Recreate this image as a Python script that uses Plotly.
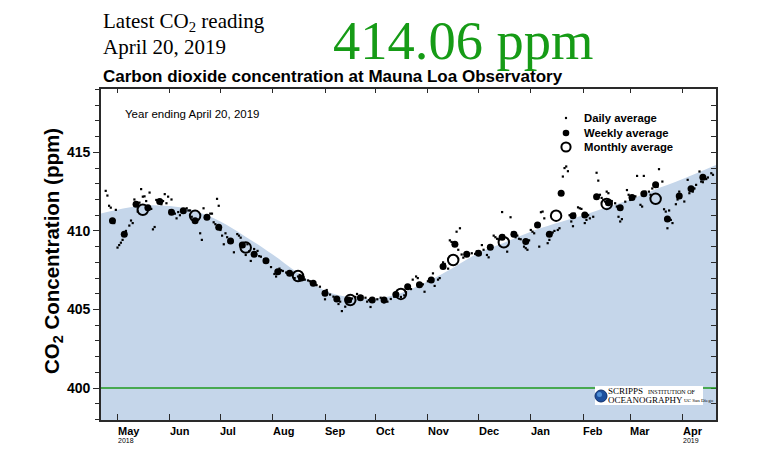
import plotly.graph_objects as go
import pandas as pd

# ---------------- data ----------------
BASE_DATE = "2018-05-01"           # daily offsets are days from this date
LATEST_PPM = "414.06 ppm"
LATEST_DATE = "April 20, 2019"
BASELINE_PPM = 400

trend_dates = ["2018-04-21", "2018-05-01", "2018-05-15", "2018-06-01", "2018-06-15",
               "2018-07-01", "2018-07-15", "2018-08-01", "2018-08-15", "2018-09-01",
               "2018-09-15", "2018-10-01", "2018-10-15", "2018-11-01", "2018-11-15",
               "2018-12-01", "2018-12-15", "2019-01-01", "2019-01-15", "2019-02-01",
               "2019-02-15", "2019-03-01", "2019-03-15", "2019-04-01", "2019-04-21"]
trend_ppm = [411.1, 411.35, 411.6, 411.58, 411.3, 410.6, 409.7, 408.5, 407.4, 406.2,
             405.8, 405.7, 406.0, 406.8, 407.6, 408.6, 409.2, 409.95, 410.45, 411.0,
             411.5, 412.0, 412.6, 413.3, 414.2]

weekly_start = "2018-04-28"
weekly_ppm = [410.64, 409.79, 411.70, 411.48, 411.87, 411.19, 411.29, 410.64, 410.87, 410.24,
              409.36, 409.11, 408.52, 408.11, 407.40, 407.30, 407.00, 406.67, 406.03, 405.67,
              405.60, 405.75, 405.60, 405.60, 405.95, 406.45, 406.58, 406.88, 407.73, 409.15,
              408.52, 408.58, 408.96, 409.60, 409.79, 409.32, 410.38, 409.79, 412.40, 410.96,
              411.02, 412.18, 411.80, 411.48, 412.12, 412.36, 412.93, 410.76, 412.23, 412.68,
              413.42]

monthly_dates = ["2018-05-16", "2018-06-16", "2018-07-16", "2018-08-16", "2018-09-16",
                 "2018-10-16", "2018-11-16", "2018-12-16", "2019-01-16", "2019-02-15",
                 "2019-03-16"]
monthly_ppm = [411.34, 410.96, 408.94, 407.13, 405.60, 405.99, 408.15, 409.28, 410.97,
               411.72, 412.04]

daily_day = [-7, -6, -5, -4, -3, -2, -1, 0, 1, 2, 3, 4, 5, 7, 8, 9, 10, 11, 12, 13, 14, 15,
             16, 17, 18, 19, 20, 21, 22, 23, 24, 25, 26, 27, 28, 29, 30, 31, 32, 33, 34, 35,
             36, 37, 38, 39, 40, 41, 42, 43, 44, 45, 46, 47, 49, 50, 51, 52, 53, 54, 55, 56,
             57, 58, 59, 60, 61, 62, 63, 64, 65, 66, 67, 68, 69, 71, 72, 73, 74, 75, 76, 77,
             78, 79, 81, 82, 83, 84, 85, 87, 88, 89, 91, 93, 94, 96, 97, 98, 100, 101, 103,
             105, 107, 108, 110, 111, 113, 114, 116, 117, 118, 120, 122, 123, 124, 126, 128,
             129, 131, 132, 133, 135, 136, 138, 139, 141, 142, 143, 145, 147, 148, 149, 150,
             152, 154, 156, 157, 158, 160, 162, 164, 166, 168, 170, 171, 173, 174, 175, 177,
             178, 180, 181, 182, 184, 185, 187, 188, 190, 191, 193, 194, 196, 197, 198, 199,
             201, 202, 203, 204, 205, 206, 208, 210, 212, 213, 215, 216, 217, 219, 220, 222,
             223, 224, 225, 226, 228, 229, 231, 233, 234, 236, 237, 238, 239, 241, 242, 243,
             244, 245, 246, 247, 248, 250, 251, 252, 253, 255, 256, 258, 259, 261, 262, 264,
             265, 266, 267, 268, 269, 270, 271, 273, 274, 275, 277, 278, 279, 280, 282, 284,
             285, 286, 287, 288, 289, 290, 291, 293, 295, 296, 297, 298, 299, 301, 302, 303,
             304, 306, 307, 308, 310, 311, 312, 313, 315, 316, 317, 318, 320, 321, 323, 324,
             325, 326, 327, 328, 329, 331, 332, 333, 334, 336, 338, 339, 341, 342, 343, 345,
             346, 347, 349, 350, 352, 353]
daily_ppm = [412.55, 412.25, 411.6, 411.48, 410.7, 410.5, 411.34, 408.94, 409.1, 409.25, 409.43,
             409.7, 410.0, 410.34, 410.66, 410.5, 412.0, 411.6, 411.23, 411.8, 412.66, 412.18,
             412.2, 411.9, 411.5, 412.44, 411.4, 410.1, 410.25, 411.97, 411.9, 411.8, 411.7,
             411.9, 412.34, 411.76, 412.18, 411.3, 412.0, 411.2, 411.1, 410.8, 411.2, 411.0,
             411.3, 411.35, 411.2, 411.44, 411.3, 411.3, 410.9, 410.7, 410.55, 410.6, 409.85,
             409.43, 411.44, 410.9, 410.8, 410.95, 411.1, 411.1, 410.55, 410.43, 412.04, 411.6,
             410.06, 409.7, 409.15, 409.85, 409.6, 409.32, 409.4, 409.3, 408.64, 409.8, 409.7,
             409.57, 409.1, 409.0, 408.47, 409.15, 408.7, 408.09, 408.85, 408.6, 408.73, 408.4,
             408.36, 408.2, 408.0, 408.1, 407.7, 407.26, 407.1, 407.6, 407.5, 407.45, 407.35,
             407.3, 407.25, 407.0, 407.1, 407.2, 407.05, 406.9, 406.85, 406.8, 406.7, 406.6,
             406.55, 406.45, 406.1, 405.65, 406.24, 405.95, 405.82, 405.7, 405.35, 405.5, 404.9,
             405.18, 405.6, 405.5, 405.7, 405.8, 405.99, 405.7, 405.85, 405.75, 405.5, 405.6,
             405.16, 405.6, 405.65, 405.75, 405.6, 405.46, 405.5, 405.67, 405.82, 405.9, 405.8,
             405.9, 406.1, 406.5, 406.3, 406.9, 407.1, 407.0, 406.5, 406.6, 406.13, 406.8, 406.9,
             407.3, 406.5, 406.9, 407.0, 408.0, 407.9, 407.6, 409.4, 409.3, 409.25, 409.95,
             408.8, 410.17, 408.5, 408.3, 408.6, 408.5, 408.58, 408.54, 408.7, 408.5, 409.1,
             408.8, 408.47, 408.32, 409.0, 409.7, 409.6, 409.5, 409.47, 411.2, 409.7, 408.68,
             410.87, 409.9, 409.6, 409.7, 409.5, 409.47, 409.0, 408.9, 408.8, 409.4, 410.06,
             409.95, 409.85, 410.4, 409.0, 411.19, 411.23, 410.8, 409.22, 409.43, 409.9, 410.0,
             410.06, 410.17, 413.46, 414.0, 414.1, 413.8, 411.0, 410.6, 410.3, 411.1, 411.5,
             411.44, 411.4, 410.5, 410.7, 411.0, 410.8, 410.9, 413.7, 413.2, 412.3, 412.1,
             411.97, 411.87, 412.5, 412.4, 411.9, 411.76, 411.55, 410.9, 410.6, 410.75, 411.86,
             412.6, 412.3, 411.97, 412.1, 412.2, 413.5, 411.66, 411.55, 413.5, 412.5, 412.5,
             412.3, 412.7, 412.9, 412.8, 413.93, 413.14, 411.38, 411.23, 410.17, 411.3, 410.7,
             410.5, 411.7, 412.0, 412.5, 412.3, 411.87, 413.25, 412.4, 412.5, 412.7, 412.93,
             413.78, 413.14, 413.1, 413.3, 413.4, 413.67, 413.57]

month_ticks = ["2018-05-01", "2018-06-01", "2018-07-01", "2018-08-01", "2018-09-01",
               "2018-10-01", "2018-11-01", "2018-12-01", "2019-01-01", "2019-02-01",
               "2019-03-01", "2019-04-01"]
month_labels = ["May", "Jun", "Jul", "Aug", "Sep", "Oct", "Nov", "Dec", "Jan", "Feb", "Mar", "Apr"]
year_labels = {"2018-05-01": "2018", "2019-04-01": "2019"}

x_range = ["2018-04-21 05:00", "2019-04-20 19:00"]
y_range = [397.97, 419.03]

# ---------------- derived ----------------
daily_dates = [pd.Timestamp(BASE_DATE) + pd.Timedelta(days=d) for d in daily_day]
weekly_dates = list(pd.date_range(weekly_start, periods=len(weekly_ppm), freq="7D"))

# plot-area geometry (pixels)
L, R, T, B = 101, 716, 89, 420
W, H = 768, 461


def px(x, y):
    return (x - L) / (R - L), (B - y) / (B - T)


SANS = "Liberation Sans"
SERIF = "Liberation Serif"
FRAME = "#2a2a2a"

fig = go.Figure()

fig.add_trace(go.Scatter(
    x=trend_dates, y=trend_ppm, mode="lines",
    line=dict(width=0, shape="spline", smoothing=1.0),
    fill="tozeroy", fillcolor="#c5d6ea", hoverinfo="skip", showlegend=False))

fig.add_trace(go.Scatter(
    x=daily_dates, y=daily_ppm, mode="markers",
    marker=dict(symbol="square", size=2.2, color="black"), showlegend=False))

fig.add_trace(go.Scatter(
    x=weekly_dates, y=weekly_ppm, mode="markers",
    marker=dict(symbol="circle", size=7, color="black"), showlegend=False))

fig.add_trace(go.Scatter(
    x=monthly_dates, y=monthly_ppm, mode="markers",
    marker=dict(symbol="circle-open", size=10.5, color="black", line=dict(width=2)),
    showlegend=False))

# invisible trace to activate the mirrored tick axes
fig.add_trace(go.Scatter(x=trend_dates, y=trend_ppm, mode="none", xaxis="x2", yaxis="y2",
                         hoverinfo="skip", showlegend=False))

fig.update_layout(
    width=W, height=H,
    margin=dict(l=L, r=W - R, t=T, b=H - B),
    paper_bgcolor="white", plot_bgcolor="white",
    xaxis=dict(type="date", range=x_range, showgrid=False, zeroline=False,
               showline=True, linecolor=FRAME, linewidth=1.6, mirror=True,
               tickmode="array", tickvals=month_ticks, ticks="inside", ticklen=6,
               tickcolor=FRAME, tickwidth=1.2, showticklabels=False),
    xaxis2=dict(type="date", range=x_range, overlaying="x", side="top", anchor="y2",
                showgrid=False, zeroline=False, showline=False,
                tickmode="array", tickvals=month_ticks, ticks="inside", ticklen=4,
                tickcolor=FRAME, tickwidth=1.2, showticklabels=False),
    yaxis=dict(range=y_range, showgrid=False, zeroline=False,
               showline=True, linecolor=FRAME, linewidth=1.6, mirror=True,
               tickmode="linear", tick0=400, dtick=5, ticks="outside", ticklen=6,
               tickcolor=FRAME, tickwidth=1.2, ticklabelstandoff=0,
               tickfont=dict(family=SANS, size=14, color="black", weight="bold"),
               minor=dict(dtick=1, ticks="outside", ticklen=4, tickcolor=FRAME, tickwidth=1,
                          showgrid=False)),
    yaxis2=dict(range=y_range, overlaying="y", side="right", anchor="x2",
                showgrid=False, zeroline=False, showline=False,
                tickmode="linear", tick0=400, dtick=1, ticks="inside", ticklen=5,
                tickcolor=FRAME, tickwidth=1, showticklabels=False),
)

shapes = []
# baseline at 400 ppm
shapes.append(dict(type="line", xref="paper", x0=0, x1=1, yref="y",
                   y0=BASELINE_PPM, y1=BASELINE_PPM,
                   line=dict(color="#1e9a1e", width=1.5)))

annotations = []

# month labels on the bottom axis
for d, lab in zip(month_ticks, month_labels):
    annotations.append(dict(x=d, xref="x", y=0, yref="paper", yanchor="top", xanchor="left",
                            yshift=-3, xshift=-2, text=lab, showarrow=False,
                            font=dict(family=SANS, size=11, color="black", weight="bold")))
    if d in year_labels:
        annotations.append(dict(x=d, xref="x", y=0, yref="paper", yanchor="top",
                                xanchor="left", yshift=-15, xshift=-2, text=year_labels[d],
                                showarrow=False,
                                font=dict(family=SANS, size=7, color="black")))

# y-axis title
x, y = px(53, 251)
annotations.append(dict(x=x, y=y, xref="paper", yref="paper", textangle=-90,
                        xanchor="center", yanchor="middle",
                        text="CO<sub>2</sub> Concentration (ppm)", showarrow=False,
                        font=dict(family=SANS, size=20.5, color="black", weight="bold")))

# header texts
x, y = px(101, 22)
annotations.append(dict(x=x, y=y, xref="paper", yref="paper", xanchor="left",
                        yanchor="middle", text="Latest CO<sub>2</sub> reading",
                        showarrow=False, font=dict(family=SERIF, size=21, color="black")))
x, y = px(101, 47)
annotations.append(dict(x=x, y=y, xref="paper", yref="paper", xanchor="left",
                        yanchor="middle", text=LATEST_DATE, showarrow=False,
                        font=dict(family=SERIF, size=21, color="black")))
x, y = px(331, 40)
annotations.append(dict(x=x, y=y, xref="paper", yref="paper", xanchor="left",
                        yanchor="middle", text=LATEST_PPM, showarrow=False,
                        font=dict(family=SERIF, size=54.5, color="#169b16")))
x, y = px(101, 76)
annotations.append(dict(x=x, y=y, xref="paper", yref="paper", xanchor="left",
                        yanchor="middle",
                        text="Carbon dioxide concentration at Mauna Loa Observatory",
                        showarrow=False,
                        font=dict(family=SANS, size=17, color="black", weight="bold")))
x, y = px(123, 114)
annotations.append(dict(x=x, y=y, xref="paper", yref="paper", xanchor="left",
                        yanchor="middle", text="Year ending " + LATEST_DATE,
                        showarrow=False, font=dict(family=SANS, size=11.5, color="black")))

# manual legend
legend_items = [("Daily average", 118, 1.2, True), ("Weekly average", 133, 3.3, True),
                ("Monthly average", 147, 4.6, False)]
for label, ly, r, filled in legend_items:
    cx, cy = px(566, ly)
    shapes.append(dict(type="circle", xref="paper", yref="paper",
                       xsizemode="pixel", ysizemode="pixel", xanchor=cx, yanchor=cy,
                       x0=-r, x1=r, y0=-r, y1=r,
                       fillcolor="black" if filled else "rgba(0,0,0,0)",
                       line=dict(color="black", width=0 if filled else 2)))
    tx, ty = px(582, ly)
    annotations.append(dict(x=tx, y=ty, xref="paper", yref="paper", xanchor="left",
                            yanchor="middle", text=label, showarrow=False,
                            font=dict(family=SANS, size=11.3, color="black", weight="bold")))

# Scripps logo block
x0, y0 = px(595, 405)
x1, y1 = px(703, 386)
shapes.append(dict(type="rect", xref="paper", yref="paper", x0=x0, x1=x1, y0=y0, y1=y1,
                   fillcolor="white", line=dict(width=0)))
gx, gy = px(601, 396)
shapes.append(dict(type="circle", xref="paper", yref="paper",
                   xsizemode="pixel", ysizemode="pixel", xanchor=gx, yanchor=gy,
                   x0=-6, x1=6, y0=-6, y1=6, fillcolor="#1d4f9e",
                   line=dict(color="#0e2f6b", width=1)))
shapes.append(dict(type="circle", xref="paper", yref="paper",
                   xsizemode="pixel", ysizemode="pixel", xanchor=gx, yanchor=gy,
                   x0=-4, x1=1, y0=-1, y1=4, fillcolor="#4f8fd6", line=dict(width=0)))
x, y = px(607, 391)
annotations.append(dict(x=x, y=y, xref="paper", yref="paper", xanchor="left",
                        yanchor="middle", text="SCRIPPS", showarrow=False, borderpad=0,
                        font=dict(family=SERIF, size=9, color="black")))
x, y = px(647, 391.5)
annotations.append(dict(x=x, y=y, xref="paper", yref="paper", xanchor="left",
                        yanchor="middle", text="INSTITUTION OF", showarrow=False, borderpad=0,
                        font=dict(family=SERIF, size=6, color="black")))
x, y = px(607, 399.5)
annotations.append(dict(x=x, y=y, xref="paper", yref="paper", xanchor="left",
                        yanchor="middle", text="OCEANOGRAPHY", showarrow=False, borderpad=0,
                        font=dict(family=SERIF, size=9, color="black")))
x, y = px(683, 400)
annotations.append(dict(x=x, y=y, xref="paper", yref="paper", xanchor="left",
                        yanchor="middle", text="UC San Diego", showarrow=False, borderpad=0,
                        font=dict(family=SERIF, size=5, color="black")))

fig.update_layout(shapes=shapes, annotations=annotations)

fig.write_html("out.html")
